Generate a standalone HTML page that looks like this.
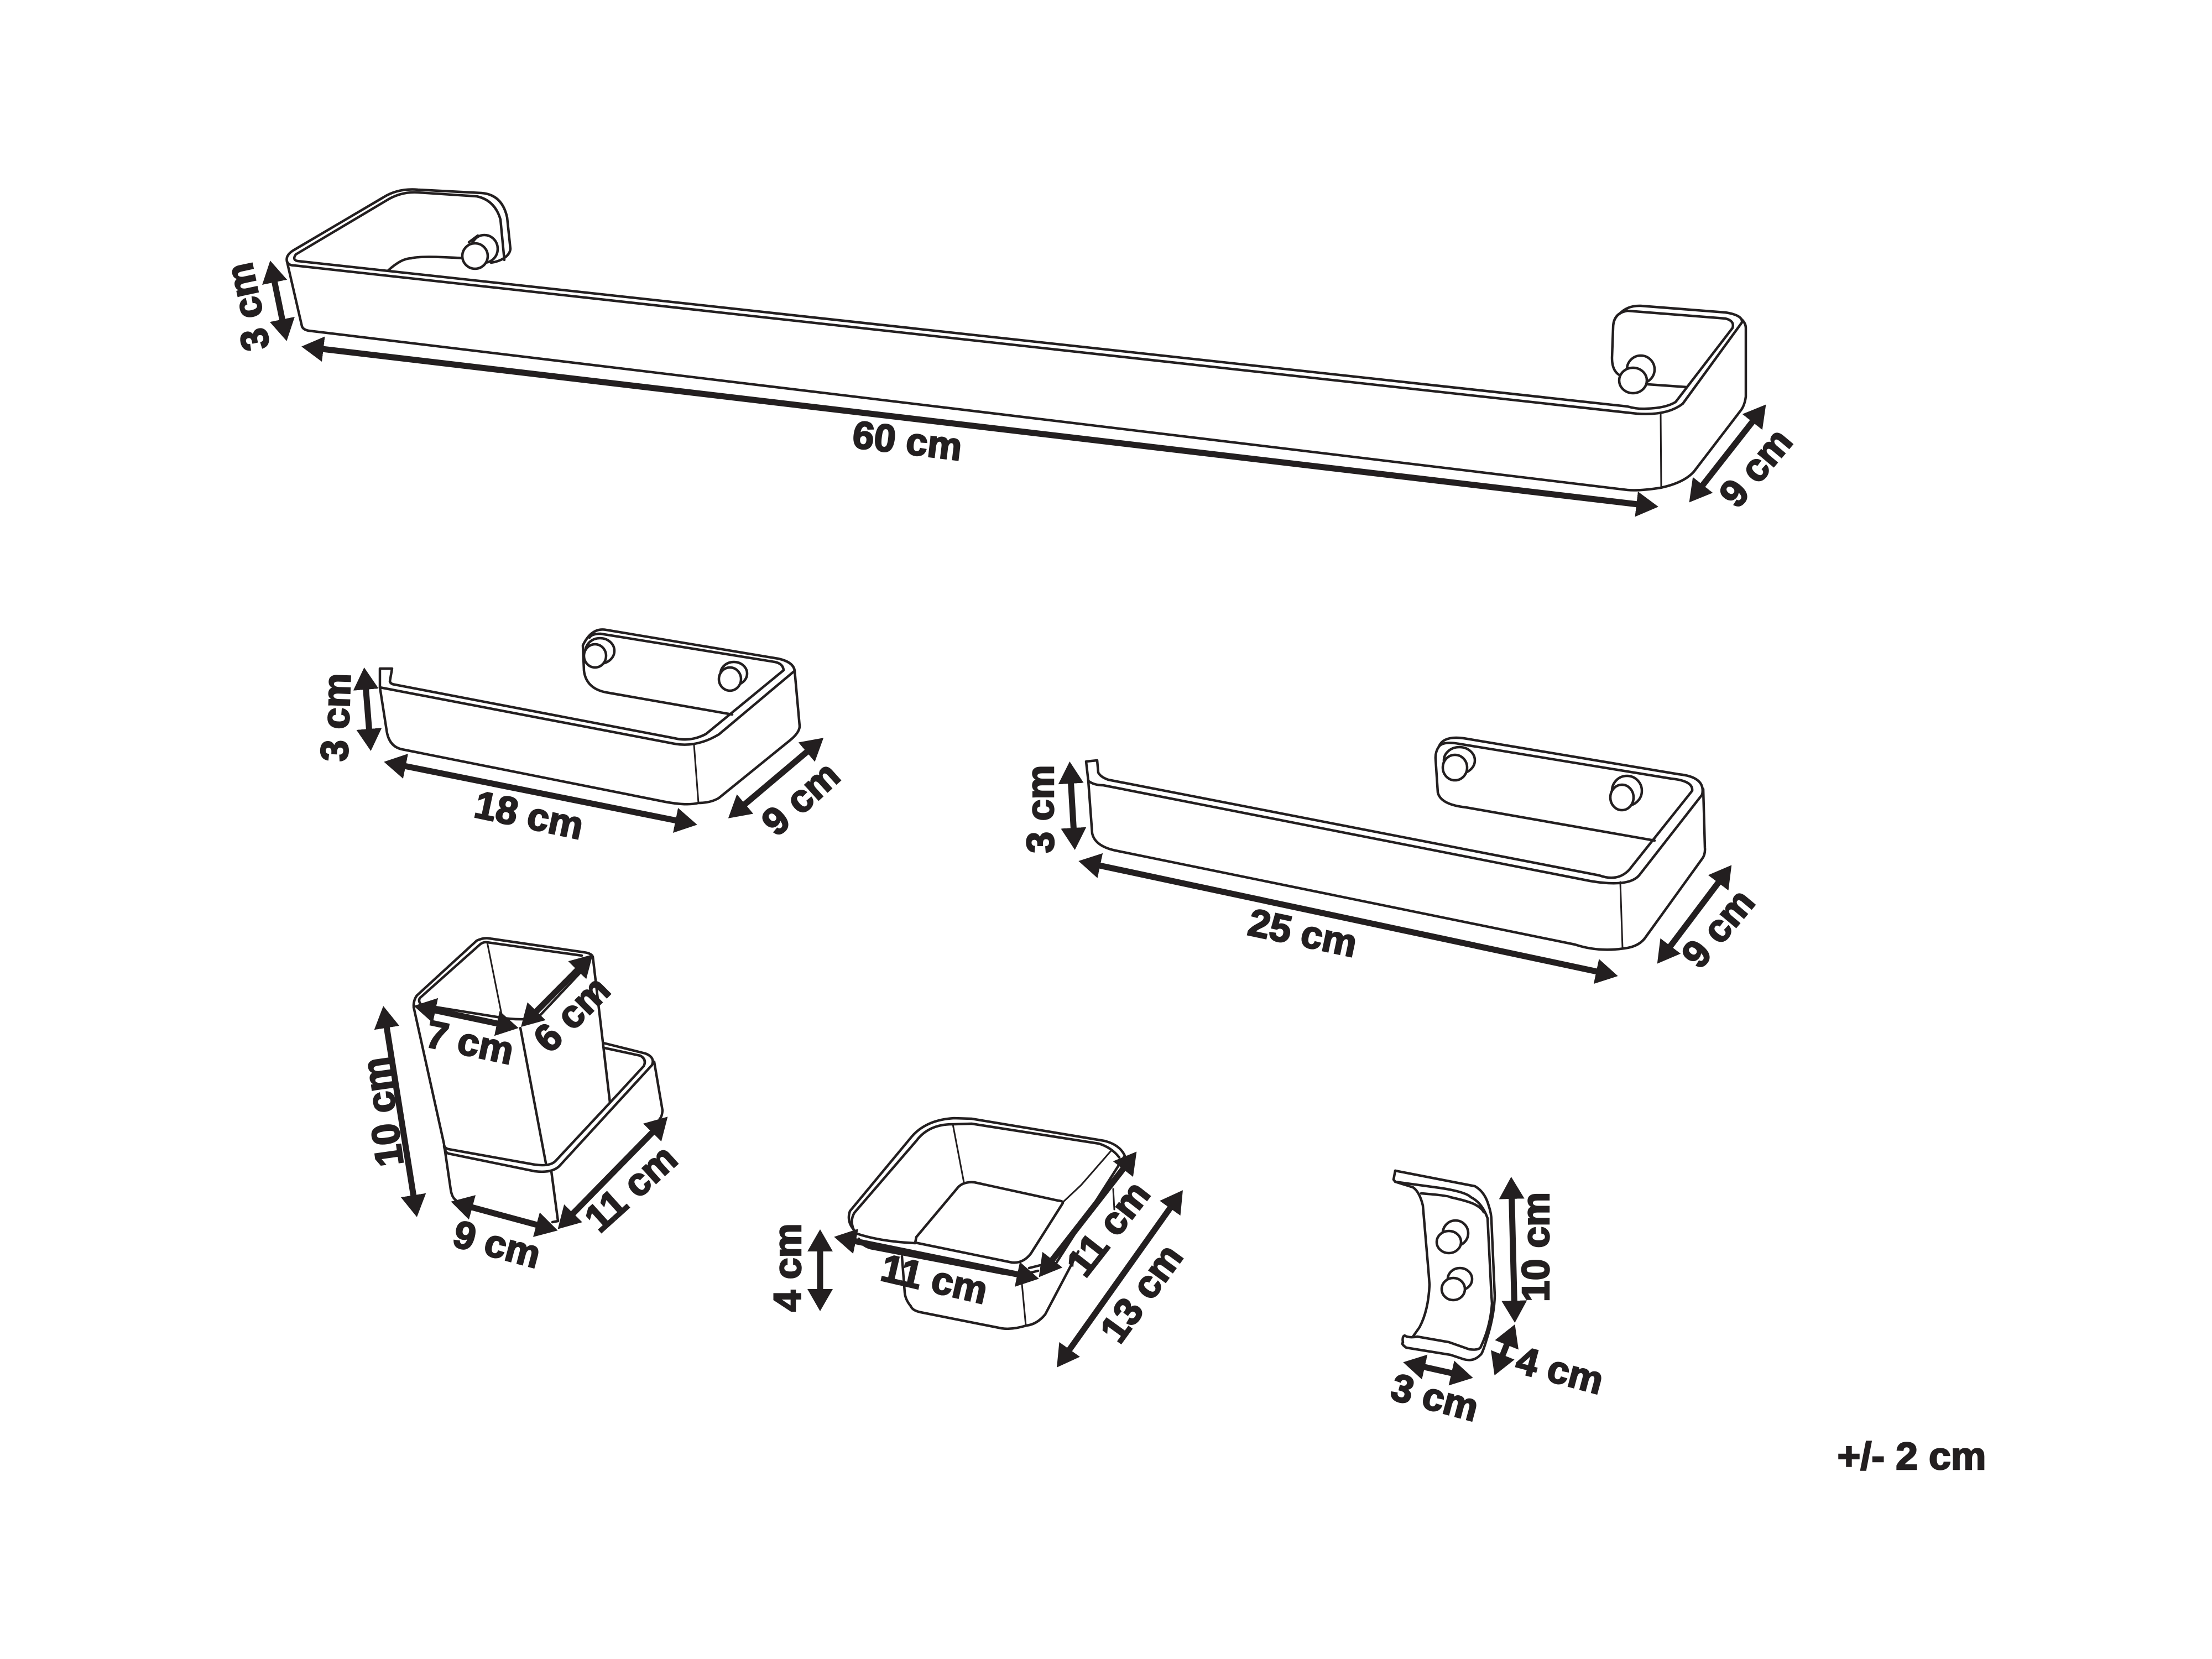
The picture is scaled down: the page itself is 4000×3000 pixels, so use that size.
<!DOCTYPE html>
<html><head><meta charset="utf-8"><style>
html,body{margin:0;padding:0;background:#fff}
svg{display:block}
.l path,.l line,.l ellipse{fill:none;stroke:#231f20;stroke-width:4.5;stroke-linejoin:round;stroke-linecap:round}
.l ellipse{fill:#fff}
.l .t{stroke-width:3}
.a line{stroke:#231f20;stroke-width:11;marker-start:url(#h);marker-end:url(#h)}
text{font-family:"Liberation Sans",sans-serif;font-weight:700;font-size:70px;fill:#231f20;stroke:#231f20;stroke-width:2.5;text-anchor:middle}
</style></head><body>
<svg xmlns="http://www.w3.org/2000/svg" width="4000" height="3000" viewBox="0 0 4000 3000">
<rect width="4000" height="3000" fill="#fff"/>
<defs><marker id="h" markerUnits="userSpaceOnUse" markerWidth="42" markerHeight="48" refX="28" refY="24" orient="auto-start-reverse" viewBox="0 0 42 48"><path d="M0,1 L40,24 L0,47 Z" fill="#231f20"/></marker></defs>

<g class="l">
<!-- long bar -->
<path d="M888,475 Q902,473 911,467 Q922,460 923,450 L917,393 Q908,352 871,349 L756,343 Q720,340 693,357 L530,453 Q516,462 519,473"/>
<path d="M535,460 L698,363 Q725,346 756,348 L862,355 Q895,362 905,397 L912,470"/>
<path d="M535,460 Q528,470 538,472 L2943,735 Q2960,740 2977,739 Q3012,738 3030,727 L3133,593 Q3137,580 3120,576 L2943,562 Q2917,566 2917,593 L2915,647 Q2915,670 2928,678"/>
<path d="M519,473 Q522,480 532,480 L2960,748 Q3015,752 3043,730 L3150,583 Q3152,570 3120,565 L2967,553 Q2943,552 2928,568"/>
<path d="M3150,578 Q3157,585 3157,593 L3157,717 Q3155,733 3148,742 L3063,853 Q3045,873 3003,882 Q2965,888 2943,886 L558,598 Q548,596 546,590 L519,473"/>
<path class="t" d="M3003,748 L3004,882"/>
<path d="M702,489 Q726,467 744,467 Q760,462 839,467"/>
<path d="M2980,695 L3050,700"/>
<ellipse cx="876" cy="450" rx="24" ry="25"/>
<path d="M848,438 L864,426"/>
<ellipse cx="859" cy="463" rx="23" ry="23"/>
<ellipse cx="2967" cy="668" rx="25" ry="25"/>
<ellipse cx="2953" cy="688" rx="25" ry="23"/>

<!-- 18 cm bar -->
<path d="M687,1243 L687,1209 L709,1209 L705,1232 Q706,1237 714,1238 L1220,1335 Q1250,1342 1277,1327 L1417,1212 Q1416,1200 1401,1197 L1086,1146 Q1070,1146 1066,1153"/>
<path d="M687,1243 L1220,1345 Q1260,1352 1300,1328 L1437,1213 Q1435,1197 1407,1191 L1096,1139 Q1070,1134 1054,1167 L1056,1213 Q1060,1245 1096,1252 L1324,1292"/>
<path d="M687,1243 L699,1320 Q703,1350 727,1355 L1193,1448 Q1240,1458 1263,1452 Q1285,1452 1300,1443 L1427,1340 Q1446,1325 1446,1313 L1437,1213"/>
<path class="t" d="M1255,1347 L1263,1452"/>
<ellipse cx="1085" cy="1177" rx="26" ry="23"/><ellipse cx="1076" cy="1186" rx="20" ry="21"/>
<ellipse cx="1327" cy="1218" rx="24" ry="21"/><ellipse cx="1320" cy="1228" rx="20" ry="21"/>

<!-- 25 cm bar -->
<path d="M1968,1412 L1964,1377 L1984,1375 L1986,1397 Q1990,1405 2004,1410 L2892,1583 Q2925,1595 2946,1573 L3060,1430 Q3062,1412 3022,1408 L2638,1345 Q2610,1340 2602,1350"/>
<path d="M1968,1412 Q1978,1420 1995,1420 L2875,1593 Q2945,1605 2964,1583 L3078,1437 Q3085,1405 3035,1400 L2647,1335 Q2610,1330 2602,1350 Q2595,1360 2596,1373 L2600,1433 Q2605,1455 2651,1460 L2992,1520"/>
<path d="M1968,1412 L1975,1507 Q1980,1530 2017,1538 L2848,1708 Q2890,1722 2937,1715 Q2965,1712 2977,1693 L3078,1553 Q3084,1545 3083,1533 L3080,1427"/>
<path class="t" d="M2930,1595 L2934,1714"/>
<ellipse cx="2639" cy="1375" rx="28" ry="24"/><ellipse cx="2631" cy="1388" rx="22" ry="23"/>
<ellipse cx="2942" cy="1430" rx="27" ry="27"/><ellipse cx="2933" cy="1442" rx="21" ry="23"/>

<!-- cup -->
<path d="M748,1819 Q748,1808 754,1800 L862,1701 Q875,1695 885,1697 L1056,1722 Q1066,1723 1071,1728"/>
<path d="M762,1817 Q755,1810 760,1804 L869,1707 Q875,1703 881,1704 L1052,1728"/>
<path d="M762,1817 L905,1840 Q930,1845 971,1842 L1052,1756"/>
<path class="t" d="M881,1704 L909,1844"/>
<path d="M748,1821 L803,2069"/>
<path d="M941,1859 L987,2103"/>
<path d="M997,2118 L1009,2208"/>
<path d="M1072,1730 L1103,1994"/>
<path d="M803,2071 Q805,2077 811,2078 L967,2106 Q995,2110 1005,2099 L1103,1994 L1164,1928 Q1170,1916 1158,1909 L1093,1895"/>
<path d="M803,2073 Q805,2084 811,2086 L967,2118 Q1000,2122 1013,2107 L1179,1926 Q1185,1912 1167,1905 L1091,1886"/>
<path d="M1183,1920 L1198,2008 Q1197,2020 1193,2023"/>
<path d="M804,2076 L815,2151 Q817,2165 824,2170"/>
<path d="M999,2210 L1009,2208"/>

<!-- tray -->
<path d="M1547,2227 Q1530,2210 1537,2190 L1649,2055 Q1675,2025 1725,2022 L1757,2023 L1997,2063 Q2025,2070 2034,2090"/>
<path d="M1547,2230 Q1535,2210 1545,2193 L1657,2063 Q1680,2032 1725,2033 L1757,2032 L1987,2068 Q2010,2075 2024,2093"/>
<path d="M1547,2230 Q1590,2245 1655,2248"/>
<path d="M1655,2247 L1657,2237 L1730,2150 Q1740,2136 1762,2138 L1913,2171 Q1925,2172 1921,2177 L1864,2267 Q1850,2285 1830,2283 Z"/>
<path class="t" d="M1723,2033 L1743,2138"/>
<path class="t" d="M2010,2080 L1955,2143 L1922,2174"/>
<path d="M1553,2240 Q1560,2255 1579,2258 L1814,2303 Q1840,2308 1877,2298"/>
<path d="M1861,2293 L1885,2287"/>
<path class="t" d="M2013,2150 L2015,2187"/>
<path d="M2034,2090 L1908,2287"/>
<path d="M1950,2263 L1890,2377 Q1875,2395 1856,2397 Q1830,2405 1811,2402 L1665,2373 Q1650,2370 1647,2362 Q1637,2350 1636,2337 L1631,2272"/>
<path class="t" d="M1848,2322 L1855,2397"/>

<!-- hook -->
<path d="M2523,2117 L2520,2133 L2523,2137 L2603,2148 Q2650,2155 2660,2165 Q2680,2175 2690,2203 L2697,2343"/>
<path d="M2523,2117 L2667,2145 Q2685,2155 2692,2180 Q2697,2195 2697,2207 L2703,2343 Q2702,2380 2688,2423 Q2680,2450 2677,2450 Q2665,2463 2647,2458 L2623,2450 L2543,2437 Q2533,2430 2537,2428 Q2535,2417 2540,2415 Q2547,2420 2563,2417 L2620,2427 L2657,2440 Q2672,2442 2677,2437 Q2695,2400 2698,2357 L2697,2343"/>
<path d="M2570,2158 Q2620,2162 2623,2165 Q2655,2172 2667,2178 Q2680,2185 2683,2192"/>
<path d="M2523,2137 L2555,2147 Q2567,2155 2573,2180 L2583,2297 L2585,2323 Q2583,2370 2567,2400 L2555,2417"/>
<ellipse cx="2632" cy="2230" rx="23" ry="23"/><ellipse cx="2620" cy="2246" rx="22" ry="20"/>
<ellipse cx="2640" cy="2313" rx="22" ry="20"/><ellipse cx="2628" cy="2331" rx="21" ry="20"/>
</g>

<g class="a">
<line x1="557" y1="628" x2="2987" y2="915"/>
<line x1="491" y1="483" x2="516" y2="605"/>
<line x1="3186" y1="741" x2="3062" y2="899"/>
<line x1="659.5" y1="1219" x2="669.6" y2="1346"/>
<line x1="706" y1="1380" x2="1249" y2="1489"/>
<line x1="1480" y1="1342" x2="1326" y2="1472"/>
<line x1="1935" y1="1389" x2="1943" y2="1525"/>
<line x1="1962" y1="1559.5" x2="2914" y2="1762.5"/>
<line x1="3124" y1="1574" x2="3004" y2="1733"/>
<line x1="695" y1="1831" x2="752" y2="2189"/>
<line x1="760" y1="1821.5" x2="926" y2="1856.5"/>
<line x1="1063.5" y1="1734.5" x2="950.5" y2="1848.5"/>
<line x1="827" y1="2176" x2="997" y2="2222"/>
<line x1="1199" y1="2028" x2="1017" y2="2214"/>
<line x1="1483" y1="2235" x2="1483" y2="2359"/>
<line x1="1520" y1="2239" x2="1867" y2="2310"/>
<line x1="2048" y1="2092" x2="1886" y2="2300"/>
<line x1="2132" y1="2162" x2="1918" y2="2463"/>
<line x1="2733" y1="2140" x2="2739" y2="2380"/>
<line x1="2735" y1="2406" x2="2707" y2="2476"/>
<line x1="2549" y1="2466" x2="2652" y2="2489"/>
</g>

<text transform="translate(1641,796) rotate(6.9)" y="25">60 cm</text>
<text transform="translate(447,555) rotate(-102)" y="25">3 cm</text>
<text transform="translate(3174,845) rotate(-50)" y="25">9 cm</text>
<text transform="translate(957,1473) rotate(12)" y="25">18 cm</text>
<text transform="translate(606,1297) rotate(-88)" y="25">3 cm</text>
<text transform="translate(1447,1443) rotate(-42)" y="25">9 cm</text>
<text transform="translate(2356,1686) rotate(12)" y="25">25 cm</text>
<text transform="translate(1880,1463) rotate(-90)" y="25">3 cm</text>
<text transform="translate(3106,1678) rotate(-50)" y="25">9 cm</text>
<text transform="translate(850,1884) rotate(12)" y="25">7 cm</text>
<text transform="translate(1033,1833) rotate(-45)" y="25">6 cm</text>
<text transform="translate(691,2011) rotate(-98)" y="25">10 cm</text>
<text transform="translate(899,2249) rotate(15)" y="25">9 cm</text>
<text transform="translate(1140,2148) rotate(-42)" y="25">11 cm</text>
<text transform="translate(1423,2292) rotate(-90)" y="25">4 cm</text>
<text transform="translate(1690,2312) rotate(13)" y="25">11 cm</text>
<text transform="translate(2003,2221) rotate(-52)" y="25">11 cm</text>
<text transform="translate(2063,2338) rotate(-54)" y="25">13 cm</text>
<text transform="translate(2776,2255) rotate(-90)" y="25">10 cm</text>
<text transform="translate(2821,2477) rotate(15)" y="25">4 cm</text>
<text transform="translate(2595,2526) rotate(15)" y="25">3 cm</text>
<text x="3475" y="2672" textLength="269" lengthAdjust="spacingAndGlyphs" transform="translate(-18,-15)">+/- 2 cm</text>
</svg>
</body></html>
